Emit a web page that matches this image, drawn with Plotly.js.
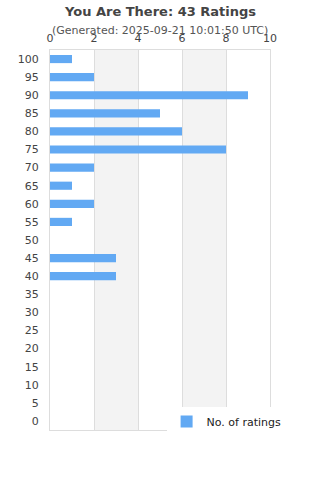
<!DOCTYPE html>
<html>
<head>
<meta charset="utf-8">
<script src="https://cdn.plot.ly/plotly-3.0.1.min.js"></script>
<style>html,body{margin:0;padding:0;background:#fff}#chart{width:320px;height:480px}</style>
</head>
<body>
<div id="chart"></div>
<script>
const ratingBins = ['100','95','90','85','80','75','70','65','60','55','50','45','40','35','30','25','20','15','10','5','0'];
const ratingCounts = [1,2,9,5,6,8,2,1,2,1,0,3,3,0,0,0,0,0,0,0,0];
const xTicks = [0,2,4,6,8,10];
const seriesName = 'No. of ratings';
const titleText = 'You Are There: 43 Ratings';
const subtitleText = '(Generated: 2025-09-21 10:01:50 UTC)';

const bands = [[2,4],[6,8]].map(b => ({
  type:'rect', xref:'x', yref:'paper', x0:b[0], x1:b[1], y0:0, y1:1,
  fillcolor:'#f3f3f3', line:{width:0}, layer:'below'
}));

Plotly.newPlot('chart', [{
  type:'bar', orientation:'h',
  y: ratingBins, x: ratingCounts,
  name: seriesName, showlegend:true,
  marker:{color:'#62a9f3'}
}], {
  width:320, height:480,
  margin:{l:50, r:50, t:50, b:50},
  paper_bgcolor:'#fff', plot_bgcolor:'#fff',
  font:{family:'DejaVu Sans', color:'#444', size:11},
  bargap:0.55,
  shapes: bands,
  xaxis:{side:'top', range:[0,10], tickvals:xTicks, ticktext:xTicks.map(String),
    showgrid:true, gridcolor:'#ddd', zeroline:false, showline:true, mirror:true,
    linecolor:'#ddd', ticks:'', ticklabelstandoff:3, tickfont:{size:11, color:'#444'}, fixedrange:true},
  yaxis:{type:'category', categoryorder:'array', categoryarray:ratingBins, autorange:'reversed',
    showgrid:false, zeroline:false, showline:true, mirror:true, linecolor:'#ddd',
    ticks:'', ticklabelstandoff:8, tickfont:{size:11, color:'#444'}, fixedrange:true},
  legend:{orientation:'h', x:0.53, xanchor:'left', y:-0.016, yanchor:'bottom',
    bgcolor:'#fff', itemwidth:30, font:{size:11, color:'#222'}},
  annotations:[
    {text:'<b>'+titleText+'</b>', xref:'paper', yref:'paper', x:0.5, y:1, xanchor:'center', yanchor:'middle',
     yshift:39, showarrow:false, font:{size:13, color:'#444'}},
    {text:subtitleText, xref:'paper', yref:'paper', x:0.5, y:1, xanchor:'center', yanchor:'middle',
     yshift:20, showarrow:false, font:{size:11, color:'#555'}}
  ]
}, {displayModeBar:false, staticPlot:true});
</script>
</body>
</html>
